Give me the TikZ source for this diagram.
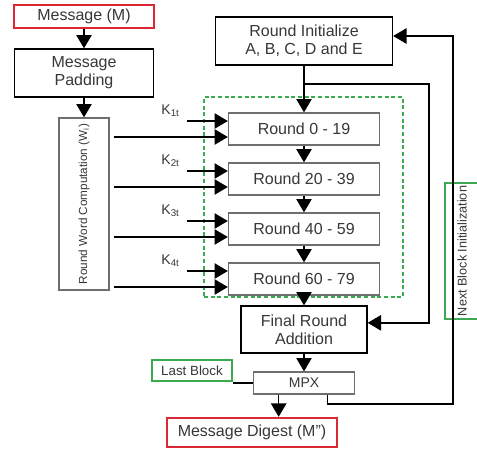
\documentclass[tikz,border=0pt]{standalone}
\usepackage{fontspec}
\setmainfont{Liberation Sans}
\usetikzlibrary{positioning,arrows.meta}

\definecolor{msgred}{RGB}{218,40,52}
\definecolor{blockgreen}{RGB}{60,170,80}
\definecolor{bordergray}{RGB}{110,110,110}
\definecolor{txtgray}{RGB}{55,55,55}

\begin{document}
\begin{tikzpicture}[x=0.75pt, y=-0.75pt,
        box/.style={draw, line width=1pt, align=center, text=txtgray, font=\fontsize{12}{13.5}\selectfont, inner sep=0pt},
        grey box/.style={box, draw=bordergray},
        red box/.style={box, draw=msgred, line width=1.8pt},
        green box/.style={box, draw=blockgreen, line width=0.9pt},
        round box/.style={grey box, minimum width=113.25pt, minimum height=24pt},
        arr/.style={-{Triangle[length=10pt, width=11.5pt]}, line width=1.1pt}]
            \useasboundingbox (0,0) rectangle (477,450);

            \node [red box, minimum width=105pt, minimum height=17.25pt] (msg) at (84,16.5) {Message (M)};
            \node [box, minimum width=104.25pt, minimum height=36pt] (pad) at (84,73) {Message\\Padding};
            \node [grey box, minimum width=37.5pt, minimum height=129pt, font=\fontsize{8.8}{10}\selectfont] (rwc) at (84,204) {\rotatebox{90}{Round Word Computation (W\textsubscript{i})}};

            \node [box, minimum width=132.75pt, minimum height=36pt] (init) at (304,41) {Round Initialize\\A, B, C, D and E};
            \node [draw=blockgreen, densely dashed, line width=0.9pt, minimum width=149.25pt, minimum height=150pt] (frame) at (303.5,197) {};
            \node [round box] (r1) at (304,129) {Round 0 - 19};
            \node [round box, below=12.5pt of r1] (r2) {Round 20 - 39};
            \node [round box, below=12.5pt of r2] (r3) {Round 40 - 59};
            \node [round box, below=12.5pt of r3] (r4) {Round 60 - 79};

            \node [box, minimum width=94.5pt, minimum height=35.25pt] (fin) at (304,329.5) {Final Round\\Addition};
            \node [grey box, minimum width=75.75pt, minimum height=16.5pt, font=\fontsize{10.5}{12}\selectfont] (mpx) at (304,383) {MPX};
            \node [green box, minimum width=60pt, minimum height=15.75pt, font=\fontsize{10}{12}\selectfont] (last) at (192,370.5) {Last Block};
            \node [red box, minimum width=127.5pt, minimum height=21.75pt] (dig) at (252,432.5) {Message Digest (M'')};
            \node [green box, minimum width=25.5pt, minimum height=102pt, font=\fontsize{9.5}{10}\selectfont] (nbi) at (462,251) {\rotatebox{90}{Next Block Initialization}};

            % main flow
            \draw [arr] (msg) -- (pad);
            \draw [arr] (pad) -- (rwc);
            \draw [arr] (init) -- (r1);
            \draw [arr] (r1) -- (r2);
            \draw [arr] (r2) -- (r3);
            \draw [arr] (r3) -- (r4);
            \draw [arr] (r4) -- (fin);
            \draw [arr] (fin) -- (mpx);

            % words and constants into each round
            \coordinate (wout) at ([xshift=3pt]rwc.east);
            \foreach \i in {1,2,3,4} {
                \coordinate (w\i) at ([yshift=-6pt]r\i.west);
                \coordinate (k\i) at ([yshift=6pt]r\i.west);
                \draw [arr] (wout |- w\i) -- (w\i);
                \draw [arr] ([xshift=-31pt]k\i) coordinate (ks\i) -- (k\i);
                \node [text=txtgray, font=\fontsize{10.5}{12}\selectfont] (kl\i) at ([xshift=-12pt, yshift=8pt]ks\i) {K\textsubscript{\i t}};
            }

            % bypass to final addition
            \coordinate (bypass) at (429,84);
            \draw [arr] (init.south |- bypass) -- (bypass) |- ([yshift=5pt]fin.east);

            % next block loop
            \coordinate (loop) at (453,404);
            \draw [arr] ([xshift=17.5pt]mpx.south) |- (loop) |- ([yshift=3.75pt]init.east);

            % output
            \coordinate (mout) at ([xshift=-19pt]mpx.south);
            \draw [arr] (mout) -- (mout |- dig.north);
            \draw [line width=0.8pt] (mpx.west) -- (mpx.west -| last.east);
        \end{tikzpicture}
\end{document}
